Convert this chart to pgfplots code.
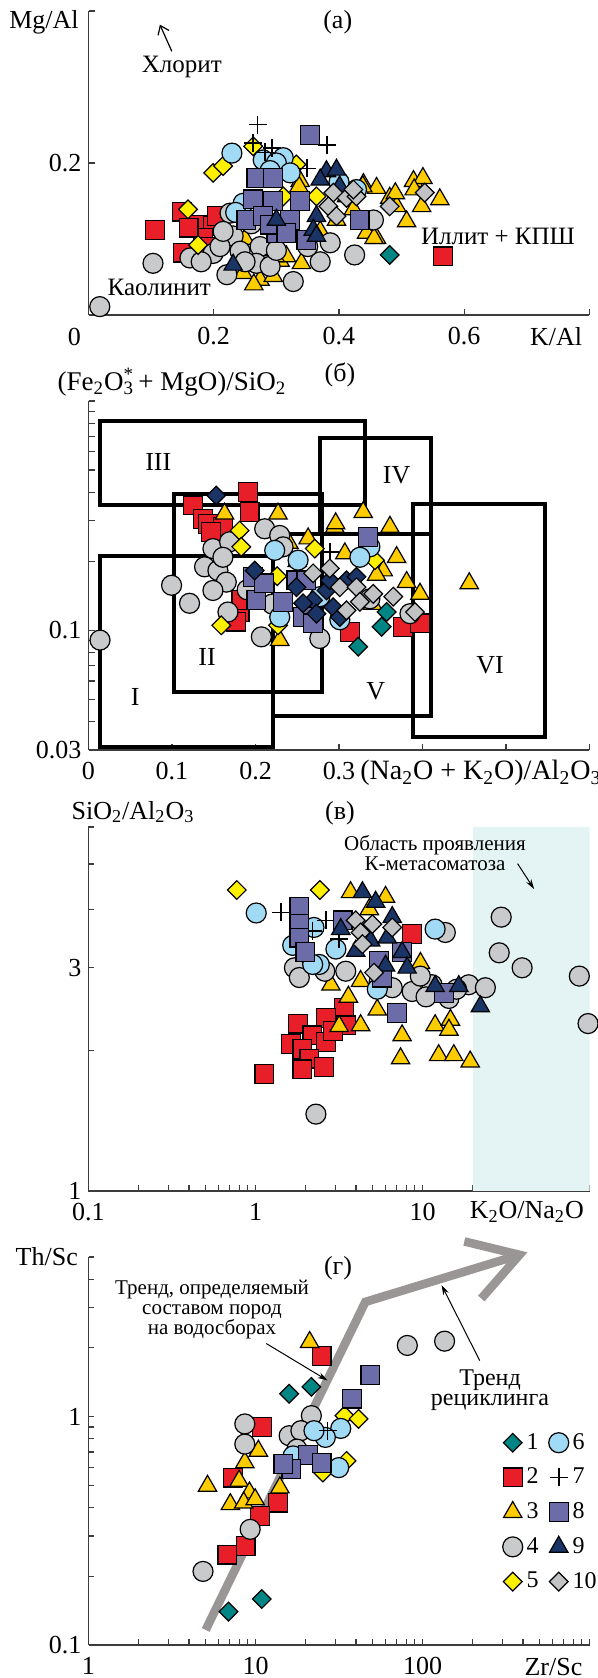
\documentclass[border=0pt]{standalone}
\usepackage{fontspec}
\setmainfont{Liberation Serif}
\usepackage{pgfplots}
\pgfplotsset{compat=1.18}
\usetikzlibrary{arrows.meta}
\definecolor{c1}{RGB}{0,133,133}
\definecolor{c2}{RGB}{232,30,40}
\definecolor{c3}{RGB}{255,204,0}
\definecolor{c4}{RGB}{200,202,204}
\definecolor{c5}{RGB}{255,240,0}
\definecolor{c6}{RGB}{160,218,245}
\definecolor{c8}{RGB}{108,108,168}
\definecolor{c9}{RGB}{26,52,102}
\definecolor{c10}{RGB}{192,194,196}
\definecolor{shade}{RGB}{228,243,243}
\definecolor{trend}{RGB}{155,150,150}
\definecolor{axc}{RGB}{60,60,60}
\newcommand\fL{\fontsize{13}{15}\selectfont}
\newcommand\fA{\fontsize{12.5}{14}\selectfont}
\pgfplotsset{
 m1/.style={only marks, mark=square*, mark size=3.3pt, mark options={rotate=45, fill=c1, draw=black, line width=0.6pt}},
 m2/.style={only marks, mark=square*, mark size=4.7pt, mark options={fill=c2, draw=black, line width=0.6pt}},
 m3/.style={only marks, mark=triangle*, mark size=5.3pt, mark options={fill=c3, draw=black, line width=0.6pt}},
 m4/.style={only marks, mark=*, mark size=5pt, mark options={fill=c4, draw=black, line width=0.6pt}},
 m5/.style={only marks, mark=square*, mark size=3.3pt, mark options={rotate=45, fill=c5, draw=black, line width=0.6pt}},
 m6/.style={only marks, mark=*, mark size=5pt, mark options={fill=c6, draw=black, line width=0.6pt}},
 m7/.style={only marks, mark=+, mark size=4.5pt, mark options={draw=black, line width=0.8pt}},
 m8/.style={only marks, mark=square*, mark size=4.7pt, mark options={fill=c8, draw=black, line width=0.6pt}},
 m9/.style={only marks, mark=triangle*, mark size=5.3pt, mark options={fill=c9, draw=black, line width=0.6pt}},
 m9d/.style={only marks, mark=square*, mark size=3.3pt, mark options={rotate=45, fill=c9, draw=black, line width=0.6pt}},
 m10/.style={only marks, mark=square*, mark size=3.3pt, mark options={rotate=45, fill=c10, draw=black, line width=0.6pt}},
 box/.style={black, line width=2pt, line join=miter, line cap=rect, forget plot},
 panel/.style={scale only axis, width=250.5pt, anchor=south west, clip=false,
  axis lines=left, x axis line style={-}, y axis line style={-},
  axis line style={draw=axc, line width=0.6pt},
  tick style={draw=axc, line width=0.6pt},
  tick align=inside, major tick length=3pt, minor tick length=3pt,
  tick label style={font=\fL, text=black},
  xticklabel style={yshift=-2.5pt},
  /pgf/number format/assume math mode=true},
}
\begin{document}
\begin{tikzpicture}
\useasboundingbox (0,0) rectangle (299pt,839pt);
%% ---------------- (a)
\begin{axis}[panel, at={(44.25pt,681.5pt)}, height=152pt,
 xmin=0, xmax=0.8, ymin=0, ymax=0.4,
 xtick={0,0.2,0.4,0.6,0.8}, xticklabels={,0.2,0.4,0.6,},
 ytick={0,0.2,0.4}, yticklabels={,0.2,}]
\addplot[m3] coordinates {(0.439,0.172)(0.460,0.167)(0.481,0.154)(0.492,0.143)(0.508,0.123)(0.519,0.176)(0.534,0.180)(0.532,0.143)(0.561,0.152)(0.444,0.108)(0.460,0.101)(0.274,0.046)(0.306,0.071)(0.247,0.055)(0.295,0.051)(0.338,0.176)(0.396,0.125)(0.423,0.139)(0.316,0.077)(0.412,0.156)(0.264,0.040)(0.298,0.077)(0.340,0.068)(0.49,0.16)(0.438,0.169)(0.456,0.101)(0.336,0.169)(0.26,0.065)(0.28,0.085)(0.37,0.11)(0.25,0.1)(0.52,0.165)};
\addplot[m2] coordinates {(0.106,0.112)(0.149,0.136)(0.173,0.119)(0.199,0.117)(0.183,0.101)(0.151,0.082)(0.178,0.077)(0.205,0.130)(0.566,0.077)(0.16,0.115)(0.19,0.09)};
\addplot[m4] coordinates {(0.018,0.011)(0.103,0.068)(0.162,0.075)(0.199,0.081)(0.226,0.134)(0.231,0.104)(0.242,0.084)(0.274,0.090)(0.268,0.068)(0.221,0.053)(0.327,0.044)(0.370,0.070)(0.386,0.095)(0.425,0.079)(0.455,0.125)(0.210,0.090)(0.290,0.064)(0.25,0.07)(0.215,0.11)(0.30,0.085)(0.35,0.09)(0.26,0.12)(0.18,0.07)};
\addplot[m5] coordinates {(0.199,0.187)(0.215,0.196)(0.263,0.222)(0.159,0.139)(0.175,0.092)(0.332,0.198)(0.311,0.156)(0.364,0.156)};
\addplot[m6] coordinates {(0.229,0.213)(0.279,0.204)(0.311,0.207)(0.300,0.200)(0.322,0.187)(0.247,0.147)(0.428,0.165)(0.29,0.19)(0.235,0.135)(0.40,0.175)};
\addplot[m8] coordinates {(0.354,0.237)(0.268,0.180)(0.295,0.180)(0.263,0.152)(0.295,0.150)(0.338,0.150)(0.252,0.125)(0.279,0.130)(0.322,0.125)(0.300,0.108)(0.348,0.099)(0.433,0.125)(0.290,0.119)(0.316,0.108)};
\addplot[m9] coordinates {(0.380,0.189)(0.396,0.191)(0.370,0.178)(0.300,0.125)(0.364,0.130)(0.359,0.112)(0.364,0.104)(0.231,0.066)(0.401,0.169)};
\addplot[m10] coordinates {(0.391,0.161)(0.412,0.154)(0.428,0.156)(0.383,0.143)(0.396,0.130)(0.481,0.143)(0.537,0.161)(0.423,0.165)};
\addplot[m1] coordinates {(0.481,0.079)};
\addplot[m7] coordinates {(0.270,0.2505)(0.381,0.224)(0.263,0.226)(0.293,0.220)(0.349,0.193)(0.282,0.214)};
\node[font=\fA] at (axis cs:0.149,0.326) {Хлорит};
\draw[-{Straight Barb[length=4pt,width=6pt]}, line width=0.6pt] (axis cs:0.133,0.347) -- (axis cs:0.114,0.382);
\node[font=\fA] at (axis cs:0.113,0.0356) {Каолинит};
\node[font=\fA] at (axis cs:0.654,0.103) {Иллит + КПШ};
\node[font=\fL] at (axis cs:0.398,0.385) {(а)};
\end{axis}
\node[font=\fL] at (22pt,828pt) {Mg/Al};
\node[font=\fL] at (278pt,670.5pt) {K/Al};
\node[font=\fL] at (37.2pt,670.5pt) {0};
%% ---------------- (б)
\begin{axis}[panel, at={(44.25pt,464pt)}, height=174.5pt,
 xmin=0, xmax=0.6, ymode=log, ymin=0.03, ymax=1,
 xtick={0,0.1,0.2,0.3,0.4,0.5,0.6}, xticklabels={0,0.1,0.2,0.3,,,},
 ytick={0.03,0.1,1}, yticklabels={0.03,0.1,},
 minor ytick={0.04,0.05,0.06,0.07,0.08,0.09,0.2,0.3,0.4,0.5,0.6,0.7,0.8,0.9}]
\addplot[box] coordinates {(0.0137,0.352)(0.3315,0.352)(0.3315,0.815)(0.0137,0.815)(0.0137,0.352)};
\addplot[box] coordinates {(0.102,0.0539)(0.28,0.0539)(0.28,0.394)(0.102,0.394)(0.102,0.0539)};
\addplot[box] coordinates {(0.0137,0.031)(0.2215,0.031)(0.2215,0.21)(0.0137,0.21)(0.0137,0.031)};
\addplot[box] coordinates {(0.277,0.264)(0.41,0.264)(0.41,0.688)(0.277,0.688)(0.277,0.264)};
\addplot[box] coordinates {(0.2215,0.0423)(0.41,0.0423)(0.41,0.264)(0.2215,0.264)(0.2215,0.0423)};
\addplot[box] coordinates {(0.3886,0.0343)(0.547,0.0343)(0.547,0.356)(0.3886,0.356)(0.3886,0.0343)};
\addplot[m2] coordinates {(0.1254,0.350)(0.191,0.400)(0.137,0.306)(0.143,0.291)(0.193,0.327)(0.161,0.282)(0.147,0.268)(0.181,0.120)(0.177,0.109)(0.313,0.0983)(0.377,0.1035)(0.397,0.107)(0.183,0.135)};
\addplot[m3] coordinates {(0.163,0.322)(0.227,0.322)(0.329,0.327)(0.295,0.282)(0.361,0.282)(0.263,0.251)(0.307,0.216)(0.369,0.208)(0.353,0.182)(0.381,0.162)(0.397,0.144)(0.229,0.0905)(0.345,0.174)(0.456,0.160)(0.296,0.292)(0.25,0.2)(0.34,0.13)(0.24,0.24)};
\addplot[m4] coordinates {(0.0138,0.0905)(0.0995,0.157)(0.121,0.131)(0.149,0.227)(0.139,0.189)(0.155,0.182)(0.165,0.162)(0.149,0.149)(0.211,0.277)(0.229,0.259)(0.169,0.243)(0.167,0.120)(0.207,0.0935)(0.277,0.092)(0.337,0.137)(0.385,0.118)(0.233,0.231)(0.161,0.208)(0.19,0.15)(0.22,0.13)};
\addplot[m5] coordinates {(0.181,0.272)(0.183,0.231)(0.271,0.227)(0.226,0.172)(0.159,0.105)(0.227,0.105)(0.343,0.202)};
\addplot[m6] coordinates {(0.223,0.223)(0.337,0.231)(0.325,0.208)(0.251,0.202)(0.229,0.114)(0.301,0.111)(0.277,0.140)};
\addplot[m8] coordinates {(0.335,0.255)(0.197,0.171)(0.201,0.135)(0.233,0.133)(0.249,0.165)(0.261,0.165)(0.257,0.114)(0.269,0.107)(0.21,0.16)};
\addplot[m7] coordinates {(0.289,0.219)};
\addplot[m9d] coordinates {(0.153,0.387)(0.199,0.182)(0.249,0.154)(0.269,0.135)(0.257,0.131)(0.285,0.149)(0.293,0.126)(0.309,0.165)(0.321,0.171)(0.273,0.118)(0.301,0.114)(0.289,0.165)};
\addplot[m10] coordinates {(0.289,0.186)(0.301,0.154)(0.321,0.154)(0.309,0.122)(0.325,0.133)(0.341,0.144)(0.365,0.140)(0.391,0.120)(0.269,0.177)};
\addplot[m1] coordinates {(0.357,0.120)(0.351,0.1035)(0.323,0.0847)};
\node[font=\fL] at (axis cs:0.0836,0.541) {III};
\node[font=\fL] at (axis cs:0.369,0.473) {IV};
\node[font=\fL] at (axis cs:0.142,0.0765) {II};
\node[font=\fL] at (axis cs:0.056,0.0512) {I};
\node[font=\fL] at (axis cs:0.344,0.0539) {V};
\node[font=\fL] at (axis cs:0.481,0.0705) {VI};
\end{axis}
\node[font=\fontsize{13.5}{15}\selectfont] at (86pt,648pt) {(Fe\textsubscript{2}O\rlap{\textsuperscript{*}}\textsubscript{3}\,+ MgO)/SiO\textsubscript{2}};
\node[font=\fL] at (170pt,651.5pt) {(б)};
\node[font=\fontsize{14}{15}\selectfont, anchor=west, inner sep=0pt] at (180pt,452.5pt) {(Na\textsubscript{2}O + K\textsubscript{2}O)/Al\textsubscript{2}O\textsubscript{3}};
%% ---------------- (в)
\begin{axis}[panel, at={(44.25pt,243.5pt)}, height=182pt,
 xmode=log, xmin=0.1, xmax=100, ymode=log, ymin=1, ymax=6,
 xtick={0.1,1,10,100}, xticklabels={0.1,1,10,},
 minor xtick={0.2,0.3,0.4,0.5,0.6,0.7,0.8,0.9,2,3,4,5,6,7,8,9,20,30,40,50,60,70,80,90},
 ytick={1,2,3,4,5,6}, yticklabels={1,,3,,,}]
\addplot[draw=none, fill=shade, forget plot] coordinates {(20,1)(100,1)(100,6)(20,6)(20,1)};
\addplot[m2] coordinates {(8.67,3.54)(3.39,2.46)(2.64,2.34)(1.79,2.28)(2.19,2.15)(1.63,2.06)(1.91,2.01)(2.64,2.08)(2.10,1.92)(2.58,1.84)(1.13,1.78)(3.47,2.26)(1.91,1.82)(2.9,2.2)};
\addplot[m3] coordinates {(3.71,4.35)(6.01,4.25)(2.83,2.76)(4.26,2.81)(5.36,2.44)(3.17,2.25)(4.26,2.26)(7.55,2.15)(7.39,1.92)(11.9,2.26)(14.7,2.32)(12.5,1.95)(15.4,1.95)(19.3,1.89)(14.4,2.21)(9.72,3.07)(4.8,4.0)(3.6,2.6)};
\addplot[m4] coordinates {(1.71,3.00)(1.83,2.86)(3.47,2.95)(8.67,2.67)(11.4,2.76)(18.9,2.76)(23.8,2.72)(14.4,2.58)(9.7,2.88)(6.59,2.72)(2.30,1.46)(29.6,3.85)(28.8,3.23)(39.5,3.00)(86.9,2.88)(98,2.28)(13.7,3.57)(16,2.7)(2.6,2.95)(10.5,2.6)(5.5,2.8)};
\addplot[m5] coordinates {(0.773,4.40)(2.43,4.40)};
\addplot[m6] coordinates {(1.01,3.93)(11.9,3.63)(2.41,3.05)(3.03,3.29)(5.36,2.70)(2.24,3.66)(1.67,3.35)(2.2,3.05)};
\addplot[m7] coordinates {(1.42,3.94)(2.64,3.79)(3.17,3.46)(2.2,3.6)};
\addplot[m8] coordinates {(1.83,4.05)(1.83,3.72)(1.83,3.48)(1.99,3.24)(3.32,3.79)(7.55,3.24)(7.06,2.40)(13.4,2.65)(5.48,3.10)(5.74,2.86)};
\addplot[m9] coordinates {(4.37,4.35)(5.24,4.15)(3.24,3.63)(4.89,3.43)(6.15,3.48)(7.55,3.24)(6.01,3.03)(8.09,3.00)(11.9,2.74)(16.5,2.74)(22.2,2.48)(6.59,3.85)(3.98,3.26)};
\addplot[m10] coordinates {(3.98,3.79)(5.01,3.72)(6.59,3.66)(4.26,3.57)(5.13,2.93)(4.37,3.37)};
\draw[-{Stealth[length=5pt,width=3pt]}, line width=0.5pt] (axis cs:37.1,5.01) -- (axis cs:46.6,4.42);
\end{axis}
\node[font=\fL] at (66.5pt,433pt) {SiO\textsubscript{2}/Al\textsubscript{2}O\textsubscript{3}};
\node[font=\fL] at (170pt,432.5pt) {(в)};
\node[font=\fontsize{10.5}{10}\selectfont, align=center, inner sep=0pt] at (217.5pt,412.5pt) {Область проявления\\К-метасоматоза};
\node[font=\fL] at (263.4pt,233pt) {K\textsubscript{2}O/Na\textsubscript{2}O};
%% ---------------- (г)
\begin{axis}[panel, at={(44.25pt,16.5pt)}, height=194pt,
 xmode=log, xmin=1, xmax=1000, ymode=log, ymin=0.1, ymax=5,
 xtick={1,10,100,1000}, xticklabels={1,10,100,},
 minor xtick={2,3,4,5,6,7,8,9,20,30,40,50,60,70,80,90,200,300,400,500,600,700,800,900},
 ytick={0.1,1,5}, yticklabels={0.1,1,},
 minor ytick={0.2,0.3,0.4,0.5,0.6,0.7,0.8,0.9,2,3,4},
 legend columns=2,
 legend style={at={(0.826,0.557)}, anchor=north west, draw=none, fill=none, font=\fontsize{12}{14}\selectfont, row sep=3.9pt, inner sep=0pt, /tikz/every even column/.append style={column sep=3pt}},
 legend image code/.code={\draw[#1] plot coordinates {(0pt,0pt)};},
 legend cell align=left]
\addlegendimage{m1}\addlegendentry{1}
\addlegendimage{m6}\addlegendentry{6}
\addlegendimage{m2}\addlegendentry{2}
\addlegendimage{m7}\addlegendentry{7}
\addlegendimage{m3}\addlegendentry{3}
\addlegendimage{m8}\addlegendentry{8}
\addlegendimage{m4}\addlegendentry{4}
\addlegendimage{m9}\addlegendentry{9}
\addlegendimage{m5}\addlegendentry{5}
\addlegendimage{m10}\addlegendentry{10}
\addplot[trend, line width=4.3pt, line join=miter, forget plot] coordinates {(5.03,0.1164)(45.5,3.18)(381,5.11)};
\addplot[trend, line width=4.3pt, line join=miter, forget plot] coordinates {(178,5.85)(381,5.11)(225,3.29)};
\addplot[m2, forget plot] coordinates {(24.9,1.84)(10.9,0.898)(7.34,0.541)(13.6,0.42)(10.6,0.367)(8.72,0.271)(6.78,0.249)};
\addplot[m3, forget plot] coordinates {(21.1,2.12)(10.4,0.708)(8.63,0.63)(7.98,0.523)(5.16,0.497)(9.2,0.465)(7.07,0.413)(8.5,0.42)(9.95,0.434)(14.0,0.489)};
\addplot[m4, forget plot] coordinates {(4.85,0.210)(9.29,0.321)(8.63,0.929)(8.63,0.758)(21.6,1.01)(15.9,0.825)(18.7,0.868)(81.1,2.05)(135.6,2.14)(17.7,0.721)};
\addplot[m5, forget plot] coordinates {(34.1,1.01)(41.4,0.977)(35.1,0.640)(25.3,0.569)};
\addplot[m6, forget plot] coordinates {(32.4,0.888)(26.2,0.811)(22.4,0.868)(31.5,0.598)(16.8,0.673)};
\addplot[m8, forget plot] coordinates {(48.7,1.52)(37.9,1.20)(20.7,0.678)(24.9,0.625)(16.4,0.589)(14.7,0.619)};
\addplot[m7, forget plot] coordinates {(27.0,0.868)};
\addplot[m1, forget plot] coordinates {(15.9,1.26)(21.6,1.35)(6.89,0.140)(10.9,0.159)};
\draw[-{Stealth[length=5pt,width=3pt]}, line width=0.5pt] (axis cs:11.6,2.09) -- (axis cs:27.0,1.44);
\draw[-{Stealth[length=5pt,width=3pt]}, line width=0.5pt] (axis cs:220,1.76) -- (axis cs:130,3.77);
\end{axis}
\node[font=\fL] at (23.4pt,210.7pt) {Th/Sc};
\node[font=\fL] at (169pt,205pt) {(г)};
\node[font=\fontsize{10.5}{10}\selectfont, align=center, inner sep=0pt] at (106pt,184pt) {Тренд, определяемый\\составом пород\\на водосборах};
\node[font=\fontsize{12}{10}\selectfont, align=center, inner sep=0pt] at (245pt,144pt) {Тренд\\рециклинга};
\node[font=\fL] at (276.7pt,5.7pt) {Zr/Sc};
\end{tikzpicture}
\end{document}
